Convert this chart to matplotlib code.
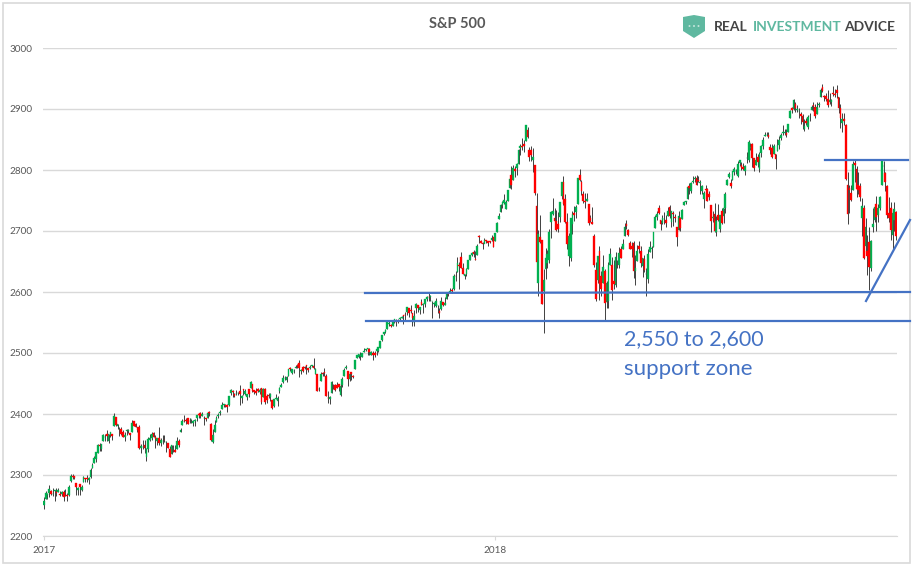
import matplotlib
matplotlib.use("Agg")
import matplotlib.pyplot as plt
from matplotlib.lines import Line2D
from matplotlib.patches import Polygon, Rectangle, Circle

W, H = 913, 568

yticks = [2200, 2300, 2400, 2500, 2600, 2700, 2800, 2900, 3000]
xlabels = ["2017", "2018"]
xlabel_pos = [0, 251]

# one row per month, 2017-01 to 2018-11
opens = [
    2251,2261,2268,2271,2274,2269,2273,2272,2272,2269,2269,2272,2271,2268,2268,2290,2299,2299,2287,2275,
    2286,2276,2289,2295,2295,2291,2296,2312,2319,2327,2336,2349,2342,2355,2362,2368,2355,2366,2367,
    2380,2395,2381,2375,2375,2370,2363,2372,2372,2369,2370,2388,2384,2379,2379,2344,2346,2350,2329,2342,2357,2361,2369,
    2363,2355,2360,2353,2356,2358,2354,2352,2342,2335,2342,2341,2343,2355,2370,2382,2389,2390,2393,
    2388,2391,2386,2389,2393,2400,2401,2397,2394,2393,2393,2404,2383,2354,2371,2387,2397,2401,2409,2415,2415,2414,
    2415,2434,2437,2433,2432,2434,2437,2426,2441,2433,2428,2441,2442,2450,2439,2437,2441,2436,2443,2428,2441,2429,
    2431,2428,2423,2413,2425,2422,2437,2445,2453,2459,2455,2463,2475,2467,2470,2476,2480,2483,2470,2477,
    2477,2480,2476,2476,2478,2478,2465,2465,2441,2454,2468,2469,2462,2427,2425,2434,2445,2447,2447,2449,2431,2447,2463,
    2475,2470,2458,2469,2462,2474,2492,2493,2495,2494,2502,2505,2507,2507,2497,2500,2500,2503,2504,2509,
    2521,2531,2535,2540,2547,2546,2544,2551,2553,2553,2555,2558,2562,2563,2567,2573,2570,2566,2551,2574,2578,2571,
    2583,2579,2581,2588,2592,2591,2585,2580,2577,2578,2569,2572,2583,2579,2589,2598,2600,2603,2605,2627,2633,
    2645,2657,2639,2627,2630,2637,2652,2661,2665,2654,2660,2692,2684,2681,2679,2685,2683,2683,2685,2690,
    2683,2698,2719,2731,2743,2746,2736,2749,2771,2792,2784,2802,2804,2810,2836,2839,2843,2847,2866,2833,2832,
    2817,2808,2741,2614,2690,2685,2601,2637,2647,2653,2714,2728,2722,2716,2711,2723,2757,2781,2753,
    2715,2659,2655,2711,2730,2731,2744,2791,2780,2760,2750,2750,2744,2722,2715,2692,2636,2620,2667,2626,2615,
    2634,2584,2585,2645,2645,2618,2611,2643,2644,2670,2671,2692,2711,2702,2680,2675,2680,2635,2651,2675,2668,
    2643,2654,2629,2622,2665,2670,2674,2705,2723,2738,2718,2713,2719,2718,2725,2739,2714,2730,2723,2706,2702,2721,
    2719,2742,2748,2753,2774,2765,2780,2785,2787,2784,2778,2766,2752,2769,2769,2760,2742,2722,2728,2699,2727,
    2704,2733,2725,2738,2776,2788,2779,2783,2797,2798,2790,2811,2809,2805,2799,2820,2817,2836,2842,2819,2809,
    2822,2801,2828,2840,2856,2858,2857,2838,2836,2827,2827,2831,2841,2853,2861,2861,2860,2862,2885,2901,2900,2908,2898,
    2897,2892,2888,2868,2881,2871,2888,2898,2906,2904,2891,2906,2919,2936,2921,2921,2917,2911,2911,
    2926,2924,2931,2919,2902,2877,2883,2874,2776,2770,2763,2767,2811,2802,2776,2773,2722,2737,2675,2668,2682,2640,2706,
    2718,2745,2727,2738,2775,2807,2795,2773,2730,2738,2693,2718,2731,
]
highs = [
    2264,2273,2271,2283,2275,2279,2275,2279,2278,2273,2273,2275,2277,2271,2284,2301,2301,2296,2287,2281,
    2286,2284,2299,2295,2300,2296,2311,2319,2331,2338,2351,2352,2351,2367,2368,2374,2367,2371,2368,
    2401,2395,2383,2379,2378,2373,2370,2376,2375,2369,2390,2388,2385,2379,2382,2351,2358,2357,2344,2363,2367,2371,2370,
    2366,2361,2378,2361,2365,2366,2355,2353,2348,2349,2349,2349,2362,2359,2377,2392,2398,2393,2393,
    2394,2392,2390,2392,2399,2401,2404,2404,2396,2393,2404,2405,2385,2375,2390,2396,2401,2406,2419,2417,2416,2416,
    2430,2441,2439,2434,2440,2436,2447,2431,2441,2441,2433,2441,2454,2450,2440,2442,2443,2442,2443,2442,2442,2432,
    2434,2435,2423,2425,2433,2429,2444,2451,2464,2463,2462,2474,2477,2473,2473,2481,2482,2489,2473,2479,
    2479,2480,2476,2481,2481,2491,2475,2465,2445,2469,2469,2475,2466,2437,2429,2454,2449,2450,2452,2450,2449,2460,2475,
    2481,2471,2468,2469,2464,2489,2497,2498,2501,2500,2509,2507,2508,2508,2503,2503,2504,2508,2510,2520,
    2530,2535,2540,2553,2553,2548,2552,2556,2555,2555,2559,2561,2563,2567,2576,2573,2578,2566,2570,2582,2578,2576,
    2588,2582,2588,2593,2598,2595,2586,2583,2590,2579,2574,2591,2583,2592,2600,2600,2606,2606,2629,2634,2658,
    2650,2665,2648,2630,2640,2652,2660,2666,2669,2668,2678,2694,2685,2682,2688,2685,2683,2683,2693,2690,
    2696,2714,2730,2744,2749,2760,2751,2768,2787,2807,2808,2806,2811,2834,2843,2853,2849,2873,2870,2838,2840,
    2836,2809,2763,2701,2727,2686,2638,2672,2669,2703,2732,2754,2738,2734,2731,2748,2780,2790,2761,
    2730,2696,2721,2733,2741,2743,2787,2802,2784,2766,2762,2762,2745,2727,2740,2695,2650,2658,2675,2635,2660,
    2638,2618,2649,2672,2657,2653,2665,2653,2674,2675,2687,2713,2718,2703,2683,2682,2683,2660,2677,2683,2675,
    2655,2661,2639,2670,2684,2676,2698,2726,2733,2742,2718,2726,2731,2726,2740,2742,2733,2732,2728,2707,2732,2723,
    2736,2750,2750,2773,2778,2780,2790,2790,2792,2790,2783,2775,2765,2775,2771,2765,2743,2733,2746,2725,2744,
    2727,2737,2737,2764,2785,2796,2785,2799,2805,2802,2815,2817,2813,2811,2808,2829,2849,2844,2844,2820,2828,
    2826,2829,2841,2854,2863,2863,2862,2842,2843,2843,2827,2851,2855,2860,2874,2868,2868,2876,2899,2904,2916,2912,2906,
    2901,2895,2892,2884,2886,2890,2894,2906,2912,2908,2912,2912,2935,2941,2923,2927,2931,2927,2916,
    2937,2932,2940,2920,2909,2894,2894,2875,2796,2776,2775,2814,2817,2806,2797,2779,2754,2743,2722,2693,2707,2685,2737,
    2742,2757,2744,2757,2815,2814,2796,2776,2755,2747,2735,2747,2733,
]
lows = [
    2245,2261,2260,2264,2268,2265,2258,2266,2272,2265,2265,2258,2266,2258,2266,2289,2293,2293,2268,2268,
    2268,2273,2289,2289,2289,2286,2295,2312,2319,2321,2336,2339,2339,2355,2356,2355,2352,2362,2358,
    2380,2380,2375,2364,2365,2362,2356,2365,2369,2358,2370,2380,2378,2370,2342,2336,2343,2336,2323,2338,2356,2358,2362,
    2345,2350,2350,2348,2351,2354,2337,2345,2329,2335,2338,2337,2343,2346,2370,2382,2387,2384,2383,
    2385,2386,2380,2380,2389,2393,2394,2397,2382,2388,2393,2397,2356,2353,2370,2387,2393,2399,2408,2411,2411,2403,
    2413,2431,2428,2428,2431,2431,2415,2418,2431,2431,2423,2428,2442,2436,2433,2431,2436,2433,2417,2428,2417,2418,
    2427,2422,2408,2412,2425,2413,2435,2444,2451,2456,2453,2463,2471,2466,2468,2476,2476,2460,2465,2469,
    2474,2466,2469,2474,2477,2473,2465,2437,2437,2454,2462,2462,2430,2418,2417,2434,2441,2437,2442,2437,2429,2445,2463,
    2474,2446,2454,2456,2459,2474,2492,2491,2489,2493,2502,2503,2496,2497,2496,2489,2494,2497,2502,2509,
    2520,2529,2532,2540,2544,2543,2544,2550,2545,2549,2553,2557,2548,2554,2562,2559,2565,2544,2544,2566,2568,2564,
    2578,2566,2576,2585,2586,2585,2557,2575,2576,2566,2557,2571,2577,2578,2589,2593,2600,2598,2603,2618,2633,
    2605,2639,2629,2621,2627,2637,2652,2659,2658,2652,2660,2680,2680,2670,2680,2681,2676,2680,2683,2673,
    2683,2698,2719,2731,2737,2745,2736,2749,2770,2769,2784,2788,2792,2810,2824,2832,2829,2847,2852,2814,2814,
    2796,2759,2638,2593,2681,2580,2533,2622,2639,2648,2689,2726,2714,2700,2698,2714,2753,2743,2713,
    2670,2643,2651,2695,2716,2721,2744,2782,2759,2746,2738,2750,2710,2714,2711,2641,2585,2615,2587,2593,2615,
    2553,2574,2574,2645,2587,2605,2608,2639,2640,2656,2671,2692,2703,2691,2671,2658,2623,2612,2651,2664,2641,
    2625,2633,2594,2615,2665,2655,2674,2705,2718,2728,2702,2712,2712,2707,2725,2721,2707,2708,2714,2676,2702,2700,
    2719,2742,2744,2753,2761,2763,2779,2781,2775,2780,2761,2760,2737,2767,2749,2751,2699,2715,2699,2692,2716,
    2698,2712,2713,2730,2776,2787,2771,2783,2792,2793,2789,2806,2800,2800,2792,2811,2813,2832,2805,2798,2809,
    2805,2796,2822,2835,2855,2855,2852,2826,2820,2826,2802,2831,2834,2850,2858,2858,2854,2862,2885,2894,2898,2895,2895,
    2885,2876,2868,2864,2873,2868,2880,2898,2896,2885,2891,2903,2919,2928,2913,2913,2903,2909,2905,
    2921,2919,2918,2893,2869,2863,2874,2784,2711,2729,2750,2767,2781,2755,2760,2750,2691,2654,2668,2628,2604,2635,2698,
    2714,2700,2715,2735,2775,2795,2765,2722,2714,2686,2671,2700,2685,
]
closes = [
    2258,2271,2269,2277,2269,2269,2275,2270,2275,2268,2272,2264,2271,2265,2280,2298,2297,2295,2281,2279,
    2280,2281,2297,2293,2293,2295,2308,2316,2328,2338,2349,2347,2351,2365,2363,2364,2367,2370,2364,
    2396,2382,2383,2375,2368,2363,2365,2373,2373,2365,2385,2381,2378,2373,2344,2348,2346,2344,2342,2359,2361,2368,2363,
    2359,2360,2353,2357,2356,2357,2354,2345,2329,2349,2342,2338,2356,2349,2374,2389,2388,2389,2384,
    2388,2391,2388,2390,2399,2399,2397,2400,2394,2391,2402,2401,2357,2366,2382,2394,2398,2404,2415,2416,2413,2412,
    2430,2439,2436,2429,2433,2434,2432,2429,2440,2438,2432,2433,2453,2437,2436,2435,2438,2439,2419,2441,2420,2423,
    2429,2433,2410,2425,2427,2426,2443,2448,2459,2459,2461,2474,2473,2473,2470,2477,2478,2475,2472,2470,
    2476,2478,2472,2477,2481,2475,2474,2438,2441,2466,2465,2468,2430,2426,2428,2453,2444,2439,2443,2444,2446,2458,2472,
    2477,2458,2466,2465,2461,2488,2496,2498,2496,2500,2504,2507,2508,2501,2502,2497,2497,2507,2510,2519,
    2529,2535,2538,2552,2549,2545,2551,2555,2551,2553,2558,2559,2561,2562,2575,2565,2569,2557,2560,2581,2573,2575,
    2579,2580,2588,2591,2591,2594,2585,2582,2585,2579,2565,2585,2579,2582,2599,2597,2602,2601,2627,2626,2648,
    2642,2639,2630,2629,2637,2652,2660,2664,2663,2652,2676,2690,2681,2679,2685,2683,2680,2682,2688,2674,
    2696,2713,2724,2743,2748,2751,2748,2768,2786,2776,2803,2798,2810,2833,2839,2838,2839,2873,2854,2822,2824,
    2822,2762,2649,2695,2682,2581,2620,2656,2663,2699,2731,2732,2716,2701,2704,2747,2780,2744,2714,
    2678,2691,2721,2728,2727,2739,2787,2783,2765,2749,2747,2752,2713,2717,2712,2644,2588,2659,2613,2605,2641,
    2582,2614,2645,2663,2604,2613,2657,2642,2664,2656,2678,2706,2709,2693,2670,2670,2635,2639,2667,2670,2648,
    2655,2636,2630,2663,2673,2672,2698,2723,2728,2730,2711,2722,2720,2713,2733,2725,2733,2728,2721,2690,2724,2705,
    2735,2747,2749,2772,2770,2779,2782,2787,2776,2782,2780,2774,2763,2767,2750,2755,2717,2723,2700,2716,2718,
    2727,2713,2737,2760,2784,2794,2774,2798,2801,2798,2810,2816,2804,2802,2807,2820,2846,2837,2819,2803,2816,
    2813,2827,2840,2850,2858,2858,2854,2833,2822,2840,2818,2841,2850,2857,2863,2862,2857,2875,2897,2898,2914,2901,2900,
    2897,2889,2878,2872,2877,2887,2889,2904,2905,2889,2904,2908,2931,2930,2919,2916,2906,2914,2914,
    2925,2923,2926,2902,2886,2884,2881,2786,2728,2767,2751,2810,2809,2769,2768,2756,2741,2656,2706,2659,2641,2683,2712,
    2740,2723,2738,2755,2814,2807,2781,2726,2722,2702,2730,2736,2691,
]

plt.rcParams["font.family"] = ["Lato", "DejaVu Sans"]


def px(x, y):
    return x / W, 1 - y / H


fig = plt.figure(figsize=(W / 100, H / 100), dpi=100)
fig.add_artist(Rectangle(px(3, 563), 907 / W, 560 / H, fill=False, ec="#d9d9d9", lw=1.2))

ax = fig.add_axes([43 / W, 1 - 536 / H, 854 / W, 488 / H])
xs = range(len(closes))
ax.vlines(xs, lows, highs, color="#404040", lw=0.7, zorder=2)
up = [i for i in xs if closes[i] >= opens[i]]
down = [i for i in xs if closes[i] < opens[i]]
ax.bar(up, [closes[i] - opens[i] for i in up], bottom=[opens[i] for i in up],
       width=0.95, color="#00b050", ec="#00b050", lw=0.25, zorder=3)
ax.bar(down, [closes[i] - opens[i] for i in down], bottom=[opens[i] for i in down],
       width=0.95, color="#ff0000", ec="#ff0000", lw=0.25, zorder=3)

ax.set_xlim(-0.5, len(closes) - 0.5)
ax.set_ylim(2200, 3000)
ax.set_yticks(yticks)
ax.set_xticks(xlabel_pos, xlabels)
ax.grid(axis="y", color="#d9d9d9", lw=1)
ax.set_axisbelow(True)
for side in ["top", "right", "left"]:
    ax.spines[side].set_visible(False)
ax.spines["bottom"].set_color("#d9d9d9")
ax.tick_params(axis="y", length=0, labelsize=7.2, labelcolor="#595959", pad=7.5)
ax.tick_params(axis="x", length=3, color="#d9d9d9", labelsize=7.2, labelcolor="#595959", pad=4.5)

fig.text(*px(457, 24), "S&P 500", ha="center", va="center", fontsize=10.5,
         fontweight="bold", color="#595959")

# hand drawn support and resistance lines, they run past the plot area
blue = "#4472c4"
for x0, y0, x1, y1 in [(365, 293, 910, 292), (366, 321, 910, 321), (825, 160, 908, 160), (866, 301, 910, 220)]:
    fig.add_artist(Line2D(*zip(px(x0, y0), px(x1, y1)), color=blue, lw=1.6, zorder=5))
fig.text(*px(624, 339), "2,550 to 2,600", ha="left", va="center", fontsize=15.4, color=blue)
fig.text(*px(624, 369), "support zone", ha="left", va="center", fontsize=16, color=blue)

# logo
shield = [px(683, 17), px(694, 15), px(705, 17), px(705, 31), px(694, 38), px(683, 31)]
fig.add_artist(Polygon(shield, closed=True, fc="#5fb8a0", ec="none"))
for dx in [689.5, 694, 698.5]:
    fig.add_artist(Circle(px(dx, 26), 1 / W, fc="white", ec="none"))
logo_kw = dict(va="center", fontsize=10, fontweight="bold")
fig.text(*px(714, 27), "REAL", ha="left", color="#444444", **logo_kw)
fig.text(*px(753, 27), "INVESTMENT", ha="left", color="#5fb8a0", **logo_kw)
fig.text(*px(844, 27), "ADVICE", ha="left", color="#444444", **logo_kw)

fig.savefig("out.png", dpi=100)
